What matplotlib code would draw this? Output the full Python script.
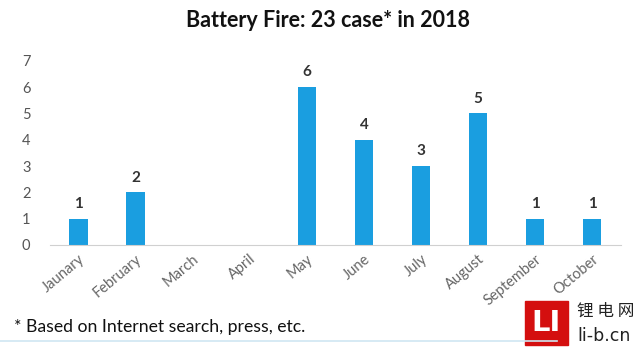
import matplotlib.pyplot as plt
from matplotlib.patches import Rectangle
from matplotlib.lines import Line2D

months = ['Jaunary', 'February', 'March', 'April', 'May', 'June',
          'July', 'August', 'September', 'October']
fires = [1, 2, 0, 0, 6, 4, 3, 5, 1, 1]
yticks = [0, 1, 2, 3, 4, 5, 6, 7]

plt.rcParams['font.family'] = ['Lato', 'DejaVu Sans']

fig = plt.figure(figsize=(6.4, 3.48), dpi=100)
ax = fig.add_axes([0.078, 0.296, 0.892, 0.529])

x = list(range(len(months)))
ax.bar(x, fires, width=0.32, color='#1a9ee0')
for xi, v in zip(x, fires):
    if v > 0:
        ax.text(xi, v + 0.3, str(v), ha='center', va='bottom',
                fontsize=11, fontweight='bold', color='#333333')

ax.set_xlim(-0.5, len(months) - 0.5)
ax.set_ylim(0, 7)
ax.set_yticks(yticks)
ax.set_xticks(x)
ax.set_xticklabels(months, rotation=40, ha='right', rotation_mode='anchor',
                   fontsize=10.5, color='#666666')
ax.tick_params(axis='y', length=0, labelsize=10.5, labelcolor='#555555', pad=14)
ax.tick_params(axis='x', length=0, pad=5)
for s in ['top', 'right', 'left']:
    ax.spines[s].set_visible(False)
ax.spines['bottom'].set_color('#d0d0d0')

fig.text(0.512, 0.94, 'Battery Fire: 23 case* in 2018', ha='center',
         va='center', fontsize=15.5, fontweight='bold', color='#111111')
fig.text(0.022, 0.06, '* Based on Internet search, press, etc.',
         ha='left', va='center', fontsize=12.7, color='#111111')
fig.add_artist(Line2D([0.0, 0.87], [0.02, 0.02], color='#cfe6f2', lw=1.2))

# watermark logo
fig.add_artist(Rectangle((0.82, 0.01), 0.068, 0.125, color='#d40f0f'))
fig.text(0.854, 0.072, 'LI', ha='center', va='center', fontsize=21,
         fontweight='bold', color='white', family='DejaVu Sans')
fig.text(0.902, 0.105, '锂 电 网', ha='left', va='center', fontsize=12,
         color='#222222', family=['Noto Sans CJK SC', 'DejaVu Sans'])
fig.text(0.902, 0.035, 'li-b.cn', ha='left', va='center', fontsize=12.5,
         color='#222222', family='DejaVu Sans')

fig.savefig('out.png', dpi=100)
